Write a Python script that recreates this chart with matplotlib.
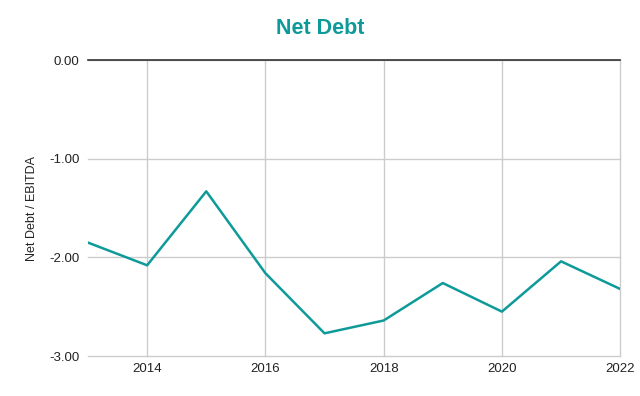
import matplotlib
matplotlib.use('Agg')
import matplotlib.pyplot as plt

plt.rcParams['font.family'] = ['Liberation Sans', 'DejaVu Sans']

years = [2013, 2014, 2015, 2016, 2017, 2018, 2019, 2020, 2021, 2022]
net_debt_ebitda = [-1.85, -2.08, -1.33, -2.16, -2.77, -2.64, -2.26, -2.55, -2.04, -2.32]
yticks = [0, -1, -2, -3]
xticks = [2014, 2016, 2018, 2020, 2022]

teal = '#0f9a9a'

fig = plt.figure(figsize=(6.4, 3.96), dpi=100)
ax = fig.add_axes([0.1375, 0.101, 0.8315, 0.747])

ax.plot(years, net_debt_ebitda, color=teal, lw=1.8, zorder=3)

ax.set_xlim(2013, 2022)
ax.set_ylim(-3, 0)
ax.set_yticks(yticks)
ax.set_yticklabels([f"{v:.2f}" for v in yticks])
ax.set_xticks(xticks)
ax.set_xticklabels([str(x) for x in xticks])

ax.grid(True, color='#cccccc', lw=1)
for gl in ax.get_xgridlines() + ax.get_ygridlines():
    gl.set_clip_on(False)
ax.axhline(0, color='#333333', lw=1.2, zorder=4, clip_on=False)
for s in ax.spines.values():
    s.set_visible(False)
ax.tick_params(length=0, labelsize=9.5, colors='#222222', pad=6)
ax.tick_params(axis='x', pad=5)

ax.set_ylabel('Net Debt / EBITDA', fontsize=9, color='#222222', labelpad=8)
fig.text(0.5, 0.928, 'Net Debt', ha='center', va='center', fontsize=15.5,
         fontweight='bold', color=teal)

fig.savefig('out.png', dpi=100)
